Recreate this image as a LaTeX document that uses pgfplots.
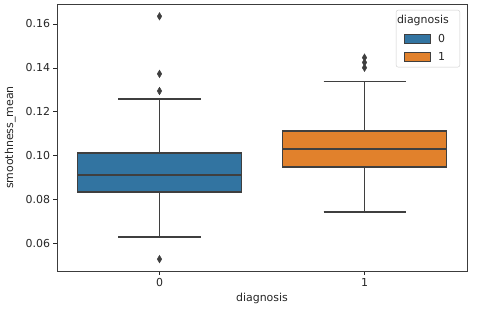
\documentclass[border=0pt]{standalone}
\usepackage{fontspec}
\setmainfont{DejaVu Sans}
\usepackage{pgfplots}
\pgfplotsset{compat=1.18}
\usepgfplotslibrary{statistics}
\definecolor{cblue}{HTML}{3274A1}
\definecolor{corange}{HTML}{E1812C}
\definecolor{lc}{HTML}{3F3F3F}
\definecolor{tc}{HTML}{262626}
\pgfplotsset{
  boxplot/every whisker/.style={draw=lc, line width=1.8bp},
  boxplot/every median/.style={draw=lc, line width=1.8bp},
  boxplot/every box/.style={draw=lc, line width=1.6bp},
}
\begin{document}
\begin{tikzpicture}
\begin{axis}[
  name=ax,
  scale only axis,
  width=410bp, height=267bp,
  xmin=-0.5, xmax=1.5,
  ymin=0.0476, ymax=0.1691,
  xtick={0,1}, xticklabels={0,1},
  ytick={0.06,0.08,0.10,0.12,0.14,0.16},
  yticklabel style={/pgf/number format/.cd, fixed, fixed zerofill, precision=2},
  /pgf/number format/assume math mode=true,
  tick label style={font=\fontsize{11}{13}\selectfont, text=tc},
  label style={font=\fontsize{11}{13}\selectfont, text=tc},
  xlabel={diagnosis},
  ylabel={smoothness\_mean},
  ylabel style={yshift=3bp},
  tick align=outside,
  tick pos=left,
  major tick length=3.5bp,
  every tick/.style={draw=tc, line width=0.8bp},
  axis line style={draw=tc!90, line width=0.8bp},
  boxplot/draw direction=y,
  legend style={at={(1,1)}, anchor=north east, xshift=-7bp, yshift=-6bp,
    draw=black!20, rounded corners=2bp, fill=white,
    font=\fontsize{11}{13}\selectfont, text=tc,
    row sep=5bp, column sep=4bp, inner xsep=8bp, inner ysep=3bp,
    nodes={inner xsep=3bp}},
  legend cell align=left,
  legend image code/.code={\draw[sharp corners,#1] (0bp,-4.5bp) rectangle (26bp,4.5bp);},
]
\addlegendimage{empty legend}
\addlegendentry{\hspace*{-41bp}diagnosis}
\addlegendimage{fill=cblue, draw=lc, line width=0.9bp}
\addlegendentry{0}
\addlegendimage{fill=corange, draw=lc, line width=0.9bp}
\addlegendentry{1}

\addplot[boxplot prepared={draw position=0,
    lower whisker=0.0632, lower quartile=0.0835, median=0.0914,
    upper quartile=0.1012, upper whisker=0.1259,
    box extend=0.8, whisker extend=0.4},
  draw=lc, fill=cblue, line width=1.6bp,
  mark=diamond*, mark size=3.8bp,
  mark options={fill=lc, draw=lc, line width=0.4bp, xscale=0.8},
  forget plot]
  table[row sep=\\, y index=0] {\\ 0.1635\\ 0.1373\\ 0.1295\\ 0.0530\\};

\addplot[boxplot prepared={draw position=1,
    lower whisker=0.0745, lower quartile=0.0949, median=0.1032,
    upper quartile=0.1114, upper whisker=0.1338,
    box extend=0.8, whisker extend=0.4},
  draw=lc, fill=corange, line width=1.6bp,
  mark=diamond*, mark size=3.8bp,
  mark options={fill=lc, draw=lc, line width=0.4bp, xscale=0.8},
  forget plot]
  table[row sep=\\, y index=0] {\\ 0.1447\\ 0.1425\\ 0.1401\\};
\end{axis}
\path ([shift={(-57bp,-43bp)}]ax.south west) rectangle ([shift={(13bp,4bp)}]ax.north east);
\end{tikzpicture}
\end{document}
